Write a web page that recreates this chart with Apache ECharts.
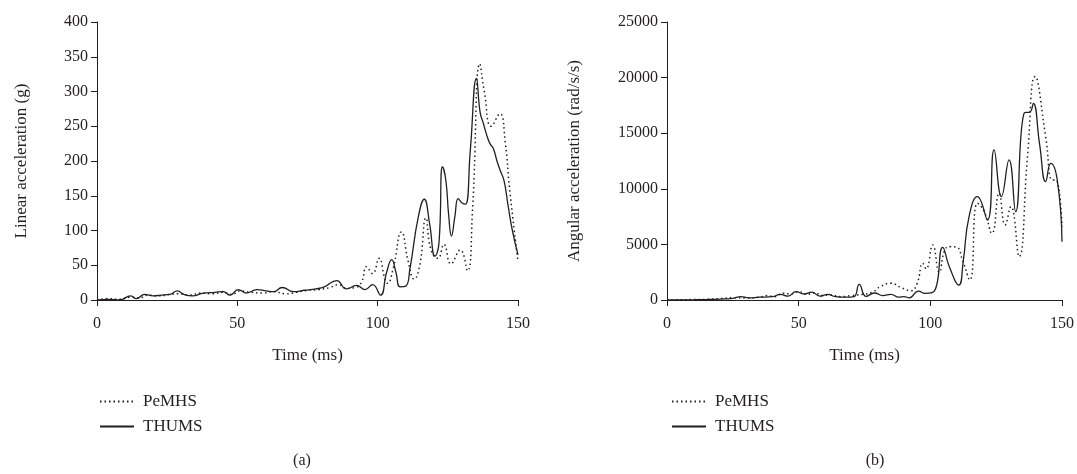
<!DOCTYPE html>
<html>
<head>
<meta charset="utf-8">
<script src="https://cdn.jsdelivr.net/npm/echarts@6/dist/echarts.min.js"></script>
<style>
  html, body { margin: 0; padding: 0; background: #fff; }
  #chart { width: 1077px; height: 474px; }
</style>
</head>
<body>
<div id="chart"></div>
<script>
// Time ticks (ms) shared by both panels
const timeTicks = [0, 50, 100, 150];

// (a) Linear acceleration (g)
const linPeTime = [0, 4, 8, 12, 15, 18, 22, 26, 29, 33, 37, 41, 45, 48, 51, 55, 59, 63, 67, 71, 75, 79, 83, 86, 89, 92,
  94.3, 96, 98.2, 100.5, 102.6, 103.5, 105.5, 108.5, 110.9, 113, 115, 117.2, 119, 121.5, 123.6, 126.1, 129.4, 132,
  133.8, 136.4, 138, 140.5, 143.5, 145.5, 147, 150];
const linPeVal = [0, 2, 1, 4, 3, 7, 6, 8, 9, 7, 10, 9, 11, 8, 13, 11, 10, 12, 9, 11, 14, 15, 18, 22, 17, 18,
  26, 48, 38, 60, 30, 24, 45, 98, 55, 30, 50, 118, 72, 60, 80, 52, 72, 42,
  130, 340, 300, 250, 268, 225, 160, 55];

const linThTime = [0, 4, 8, 12, 14, 17, 20, 23, 26, 28.6, 31, 34, 38, 42, 45, 47.4, 50.3, 53.3, 57, 60.4, 63, 66, 70,
  74, 78, 81, 85.4, 88.9, 92.5, 95.5, 98.2, 101, 103.2, 105, 106.5, 108, 110, 111.5, 114.5, 116.6, 118.5, 120.4,
  121.8, 123.1, 124.3, 125.3, 126.3, 127.5, 128.7, 130, 131.3, 133, 135.2, 136.5, 137.6, 138.8, 140, 141.2, 142.5,
  143.6, 145, 146.5, 148, 150];
const linThVal = [0, 1, 0, 6, 2, 8, 6, 7, 8, 13, 8, 6, 10, 11, 12, 7, 15, 10, 15, 13, 12, 18, 12,
  14, 16, 19, 28, 16, 21, 15, 22, 7, 40, 58, 40, 19, 20, 45, 120, 145, 110, 63,
  80, 192, 172, 122, 92, 120, 146, 140, 138, 215, 319, 270, 255, 238, 225, 218, 200,
  187, 172, 135, 100, 65];

// (b) Angular acceleration (rad/s/s)
const angPeTime = [0, 5, 10, 15, 20, 25, 30, 35, 38, 41, 44, 47, 50, 53, 56, 59, 62, 66, 70, 74, 78, 81, 85, 89,
  92.7, 95, 97.1, 98.4, 100.9, 103.4, 105.5, 107.5, 110, 112.2, 115, 117.9, 120.5, 123.4, 126.1, 128.4, 130.6,
  133.7, 136.9, 139.8, 143.8, 146.3, 147.6, 150];
const angPeVal = [0, 20, 40, 60, 120, 200, 180, 250, 400, 300, 600, 550, 750, 500, 650, 400, 450, 300, 400, 500, 700,
  1200, 1500, 1100, 840, 1500, 3300, 2800, 4950, 2500, 4500, 4800, 4750, 3600, 1800, 8700, 7950, 6000, 9600,
  6750, 8400, 3900, 12900, 20100, 14700, 10800, 10800, 6600];

const angThTime = [0, 5, 10, 15, 20, 25, 28, 31, 35, 40, 43, 46, 49, 52, 55, 58, 61, 64, 68, 71, 73, 75.6, 78.8, 82,
  85, 88, 90, 92, 95.5, 98, 101.5, 104.7, 107.2, 110.8, 112.5, 114.7, 117.9, 121.7, 124.2, 127, 129.9, 132.4,
  135.6, 137.9, 139.1, 141.5, 143.8, 145.7, 148.2, 150];
const angThVal = [0, 10, 20, 40, 80, 150, 300, 200, 250, 300, 500, 350, 750, 550, 700, 350, 500, 300, 250, 300, 1400,
  330, 630, 400, 500, 250, 300, 200, 800, 600, 800, 4740, 3000, 1350, 3500, 7500, 9300, 7190, 13500, 9300,
  12600, 7940, 16800, 16930, 17690, 14000, 10640, 12290, 10790, 5240];

const pairs = (t, v) => t.map((x, i) => [x, v[i]]);

const FONT = '"Liberation Serif", "DejaVu Serif", serif';
const INK = '#231f20';

const dottedLine = { color: INK, width: 1.5, type: [1.5, 3] };
const solidLine = { color: INK, width: 1.3, type: 'solid' };

function xAxisFor(gridIndex) {
  return {
    gridIndex, type: 'value', min: timeTicks[0], max: timeTicks[timeTicks.length - 1], interval: 50,
    name: 'Time (ms)', nameLocation: 'middle', nameGap: 47,
    nameTextStyle: { fontFamily: FONT, fontSize: 17, color: INK },
    axisLine: { show: true, lineStyle: { color: INK, width: 1 } },
    axisTick: { show: true, length: 6, lineStyle: { color: INK } },
    axisLabel: { fontFamily: FONT, fontSize: 16, color: INK, margin: 16 },
    splitLine: { show: false }
  };
}
function yAxisFor(gridIndex, name, max, interval, gap) {
  return {
    gridIndex, type: 'value', min: 0, max, interval,
    name, nameLocation: 'middle', nameGap: gap,
    nameTextStyle: { fontFamily: FONT, fontSize: 17, color: INK },
    axisLine: { show: true, lineStyle: { color: INK, width: 1 } },
    axisTick: { show: true, length: 6, lineStyle: { color: INK } },
    axisLabel: { fontFamily: FONT, fontSize: 16, color: INK, margin: 9, formatter: v => String(v) },
    splitLine: { show: false }
  };
}
function legendFor(left) {
  return {
    left, top: 388, orient: 'vertical', itemWidth: 34, itemHeight: 14, itemGap: 8,
    data: ['PeMHS', 'THUMS'],
    itemStyle: { opacity: 0 },
    textStyle: { fontFamily: FONT, fontSize: 17, color: INK, padding: [0, 0, 0, 4] },
    selectedMode: false
  };
}
function lineSeries(name, xi, data, style) {
  return {
    name, type: 'line', xAxisIndex: xi, yAxisIndex: xi, data,
    smooth: 0.5, symbol: 'none', lineStyle: style, itemStyle: { color: INK },
    z: name === 'THUMS' ? 3 : 2
  };
}

const chart = echarts.init(document.getElementById('chart'), null, { renderer: 'canvas' });
chart.setOption({
  animation: false,
  backgroundColor: '#ffffff',
  title: [
    { text: '(a)', left: 297, top: 448, textAlign: 'center', textStyle: { fontFamily: FONT, fontSize: 16, fontWeight: 'normal', color: INK } },
    { text: '(b)', left: 870, top: 448, textAlign: 'center', textStyle: { fontFamily: FONT, fontSize: 16, fontWeight: 'normal', color: INK } }
  ],
  grid: [
    { left: 97, top: 22, width: 421, height: 278 },
    { left: 667, top: 22, width: 396, height: 278 }
  ],
  legend: [legendFor(94), legendFor(666)],
  xAxis: [xAxisFor(0), xAxisFor(1)],
  yAxis: [
    yAxisFor(0, 'Linear acceleration (g)', 400, 50, 67),
    yAxisFor(1, 'Angular acceleration (rad/s/s)', 25000, 5000, 84)
  ],
  series: [
    lineSeries('PeMHS', 0, pairs(linPeTime, linPeVal), dottedLine),
    lineSeries('THUMS', 0, pairs(linThTime, linThVal), solidLine),
    lineSeries('PeMHS', 1, pairs(angPeTime, angPeVal), dottedLine),
    lineSeries('THUMS', 1, pairs(angThTime, angThVal), solidLine)
  ]
});
</script>
</body>
</html>
